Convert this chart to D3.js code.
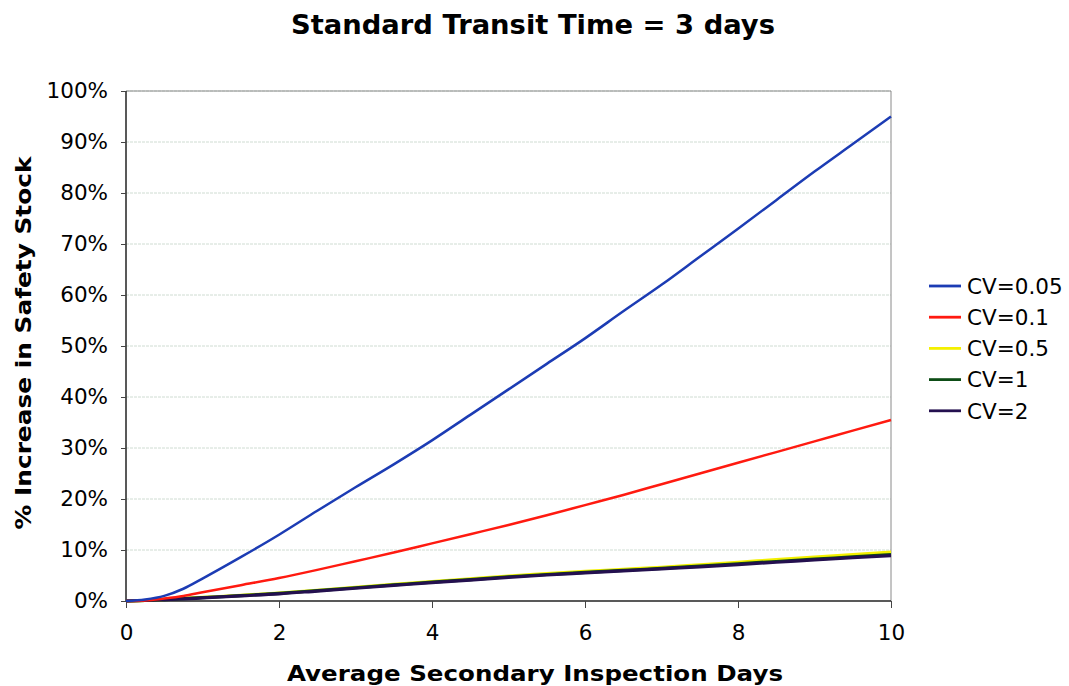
<!DOCTYPE html>
<html>
<head>
<meta charset="utf-8">
<script src="https://cdn.jsdelivr.net/npm/d3@7"></script>
<style>
  html, body { margin: 0; padding: 0; background: #fff; }
  svg { display: block; }
  text { font-family: "DejaVu Sans", Verdana, sans-serif; fill: #000; }
</style>
</head>
<body>
<svg id="chart" width="1069" height="686"></svg>
<script>
// ---- data ----
const days = [0, 0.25, 0.5, 0.75, 1, 1.5, 2, 2.5, 3, 3.5, 4, 4.5, 5, 5.5, 6, 6.5, 7, 7.5, 8, 8.5, 9, 9.5, 10];
const cv005 = [0, 0.3, 1.0, 2.4, 4.4, 8.6, 13.0, 17.7, 22.3, 26.8, 31.5, 36.5, 41.5, 46.5, 51.5, 56.8, 62.0, 67.5, 73.0, 78.6, 84.2, 89.6, 95.0];
const cv01  = [0, 0.1, 0.5, 1.0, 1.7, 3.1, 4.5, 6.1, 7.8, 9.5, 11.3, 13.1, 14.9, 16.8, 18.8, 20.8, 22.9, 25.0, 27.1, 29.2, 31.3, 33.4, 35.5];
const cv05  = [0, 0.1, 0.3, 0.5, 0.7, 1.1, 1.55, 2.1, 2.7, 3.25, 3.8, 4.35, 4.9, 5.35, 5.8, 6.2, 6.6, 7.1, 7.6, 8.1, 8.6, 9.1, 9.6];
const cv1   = [0, 0.1, 0.25, 0.45, 0.65, 1.05, 1.5, 2.05, 2.6, 3.15, 3.7, 4.2, 4.75, 5.2, 5.6, 6.0, 6.4, 6.85, 7.3, 7.75, 8.2, 8.65, 9.1];
const cv2   = [0, 0.1, 0.25, 0.4, 0.6, 1.0, 1.4, 1.95, 2.5, 3.05, 3.6, 4.1, 4.65, 5.1, 5.5, 5.9, 6.3, 6.7, 7.15, 7.6, 8.05, 8.5, 8.9];
const seriesNames = ["CV=0.05", "CV=0.1", "CV=0.5", "CV=1", "CV=2"];
const seriesValues = [cv005, cv01, cv05, cv1, cv2];
const seriesColors = ["#1c3cb4", "#ff1a10", "#f4f000", "#0d4d16", "#24104f"];
const xTicks = [0, 2, 4, 6, 8, 10];
const yTicks = [0, 10, 20, 30, 40, 50, 60, 70, 80, 90, 100];
const titleText = "Standard Transit Time = 3 days";
const xLabel = "Average Secondary Inspection Days";
const yLabel = "% Increase in Safety Stock";

// ---- layout ----
const svg = d3.select("#chart");
const plot = { left: 126, right: 891, top: 91, bottom: 601 };

const x = d3.scaleLinear().domain([0, 10]).range([plot.left, plot.right]);
const y = d3.scaleLinear().domain([0, 100]).range([plot.bottom, plot.top]);

svg.append("rect").attr("width", 1069).attr("height", 686).attr("fill", "#fff");

// gridlines
svg.append("g").selectAll("line").data(yTicks.filter(d => d > 0)).join("line")
  .attr("x1", plot.left).attr("x2", plot.right)
  .attr("y1", d => y(d)).attr("y2", d => y(d))
  .attr("stroke", "#cfdcd2").attr("stroke-width", 1)
  .attr("stroke-dasharray", "3,1");

// plot border (top/right)
svg.append("path")
  .attr("d", `M${plot.left},${plot.top}H${plot.right}V${plot.bottom}`)
  .attr("fill", "none").attr("stroke", "#8a8a8a").attr("stroke-width", 1);

// axes
const xAxis = d3.axisBottom(x).tickValues(xTicks).tickSize(7).tickPadding(17).tickFormat(d3.format("d"));
const yAxis = d3.axisLeft(y).tickValues(yTicks).tickSize(5).tickPadding(13).tickFormat(d => d + "%");

const gx = svg.append("g").attr("transform", `translate(0,${plot.bottom})`).call(xAxis);
const gy = svg.append("g").attr("transform", `translate(${plot.left},0)`).call(yAxis);
[gx, gy].forEach(g => {
  g.select(".domain").attr("stroke", "#222").attr("stroke-width", 1.5);
  g.selectAll(".tick line").attr("stroke", "#444");
  g.selectAll(".tick text").attr("font-size", 21.5).attr("font-family", "DejaVu Sans, Verdana, sans-serif").attr("fill", "#000");
});
gx.select(".domain").attr("d", `M${plot.left},0H${plot.right}`);
gy.select(".domain").attr("d", `M0,${plot.bottom}V${plot.top}`);

// lines
const line = d3.line().x((d, i) => x(days[i])).y(d => y(d)).curve(d3.curveMonotoneX);
const order = [2, 3, 4, 1, 0];
order.forEach(k => {
  svg.append("path")
    .datum(seriesValues[k])
    .attr("d", line)
    .attr("fill", "none")
    .attr("stroke", seriesColors[k])
    .attr("stroke-width", k >= 2 ? 3.2 : 2.5)
    .attr("stroke-linejoin", "round");
});

// title
svg.append("text").attr("x", 533).attr("y", 34).attr("text-anchor", "middle")
  .attr("font-size", 27).attr("font-weight", "bold")
  .attr("textLength", 484).attr("lengthAdjust", "spacingAndGlyphs").text(titleText);

// axis labels
svg.append("text").attr("x", 535).attr("y", 681).attr("text-anchor", "middle")
  .attr("font-size", 22).attr("font-weight", "bold")
  .attr("textLength", 496).attr("lengthAdjust", "spacingAndGlyphs").text(xLabel);
svg.append("text").attr("transform", "translate(31,343) rotate(-90)").attr("text-anchor", "middle")
  .attr("font-size", 22).attr("font-weight", "bold")
  .attr("textLength", 373).attr("lengthAdjust", "spacingAndGlyphs").text(yLabel);

// legend
const legend = svg.append("g").attr("transform", "translate(929,286)");
seriesNames.forEach((name, i) => {
  const g = legend.append("g").attr("transform", `translate(0,${i * 31.2})`);
  g.append("line").attr("x1", 0).attr("x2", 32).attr("y1", 0).attr("y2", 0)
    .attr("stroke", seriesColors[i]).attr("stroke-width", 2.8);
  g.append("text").attr("x", 38).attr("y", 0).attr("dy", "0.36em")
    .attr("font-size", 21.5).text(name);
});
</script>
</body>
</html>
